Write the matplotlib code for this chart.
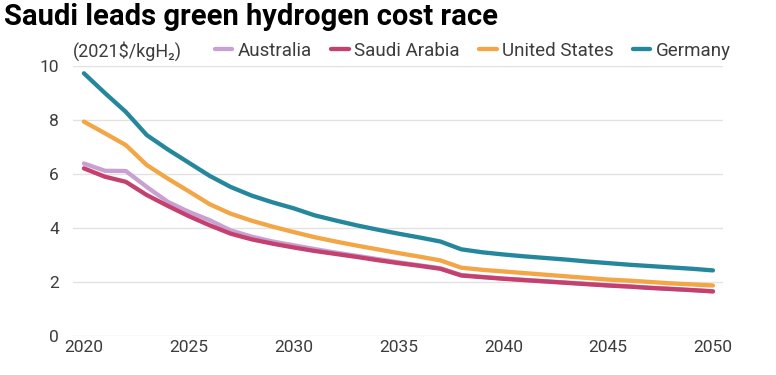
import numpy as np
import matplotlib
matplotlib.use("Agg")
import matplotlib.pyplot as plt

# =========================
# DATA
# =========================
years = list(range(2020, 2051))

australia = [6.39, 6.12, 6.11, 5.52, 4.97, 4.60, 4.29, 3.91, 3.68, 3.50,
             3.36, 3.22, 3.09, 2.97, 2.85, 2.73, 2.62, 2.51, 2.26, 2.19,
             2.13, 2.08, 2.03, 1.98, 1.93, 1.88, 1.84, 1.79, 1.75, 1.70, 1.66]
saudi = [6.21, 5.90, 5.71, 5.22, 4.82, 4.44, 4.10, 3.79, 3.58, 3.42,
         3.28, 3.15, 3.04, 2.93, 2.81, 2.70, 2.60, 2.49, 2.24, 2.18,
         2.12, 2.07, 2.02, 1.97, 1.92, 1.87, 1.83, 1.78, 1.74, 1.70, 1.65]
united_states = [7.94, 7.51, 7.07, 6.33, 5.83, 5.36, 4.88, 4.53, 4.27, 4.05,
                 3.85, 3.66, 3.50, 3.35, 3.21, 3.07, 2.94, 2.80, 2.53, 2.45,
                 2.39, 2.33, 2.27, 2.21, 2.15, 2.09, 2.05, 2.00, 1.95, 1.91, 1.87]
germany = [9.73, 9.00, 8.30, 7.44, 6.91, 6.42, 5.93, 5.52, 5.20, 4.95,
           4.73, 4.47, 4.28, 4.10, 3.94, 3.79, 3.65, 3.50, 3.21, 3.10,
           3.02, 2.95, 2.89, 2.83, 2.76, 2.70, 2.64, 2.59, 2.54, 2.49, 2.43]

series = [
    ("Australia", australia, "#c9a0d2"),
    ("Saudi Arabia", saudi, "#c4406e"),
    ("United States", united_states, "#f2a646"),
    ("Germany", germany, "#24879c"),
]

x_ticks = [2020, 2025, 2030, 2035, 2040, 2045, 2050]
y_ticks = [0, 2, 4, 6, 8, 10]

# =========================
# STYLE
# =========================
plt.rcParams["font.family"] = ["Roboto", "DejaVu Sans"]
text_col = "#3c3c3c"

fig = plt.figure(figsize=(7.76, 3.75), dpi=100)
ax = fig.add_axes([73 / 776, 1 - 336 / 375, 650 / 776, 270 / 375])

for name, vals, col in series:
    ax.plot(years, vals, color=col, lw=3.1, label=name,
            solid_capstyle="round", solid_joinstyle="round", clip_on=False, zorder=3)

ax.set_xlim(2019.48, 2050.48)
ax.set_ylim(0, 10)
ax.set_xticks(x_ticks)
ax.set_yticks(y_ticks)
ax.grid(axis="y", color="#e2e2e2", lw=1)
ax.set_axisbelow(True)
for s in ax.spines.values():
    s.set_visible(False)
ax.tick_params(length=0, labelsize=12.5, colors=text_col, pad=3)
ax.tick_params(axis="y", pad=10)

# title + unit label
fig.text(4 / 776, 1 - 3 / 375, "Saudi leads green hydrogen cost race",
         fontsize=21, fontweight="bold", color="black", va="top", ha="left")
fig.text(73 / 776, 1 - 51 / 375, "(2021$/kgH\u2082)", fontsize=13,
         color=text_col, va="center", ha="left")

leg = ax.legend(loc="center right", bbox_to_anchor=(731 / 776, 1 - 51 / 375),
                bbox_transform=fig.transFigure, ncol=4, frameon=False,
                fontsize=13.5, handlelength=0.95, handletextpad=0.3,
                columnspacing=1.0, borderpad=0, borderaxespad=0)
for t in leg.get_texts():
    t.set_color(text_col)

fig.savefig("out.png", dpi=100)
